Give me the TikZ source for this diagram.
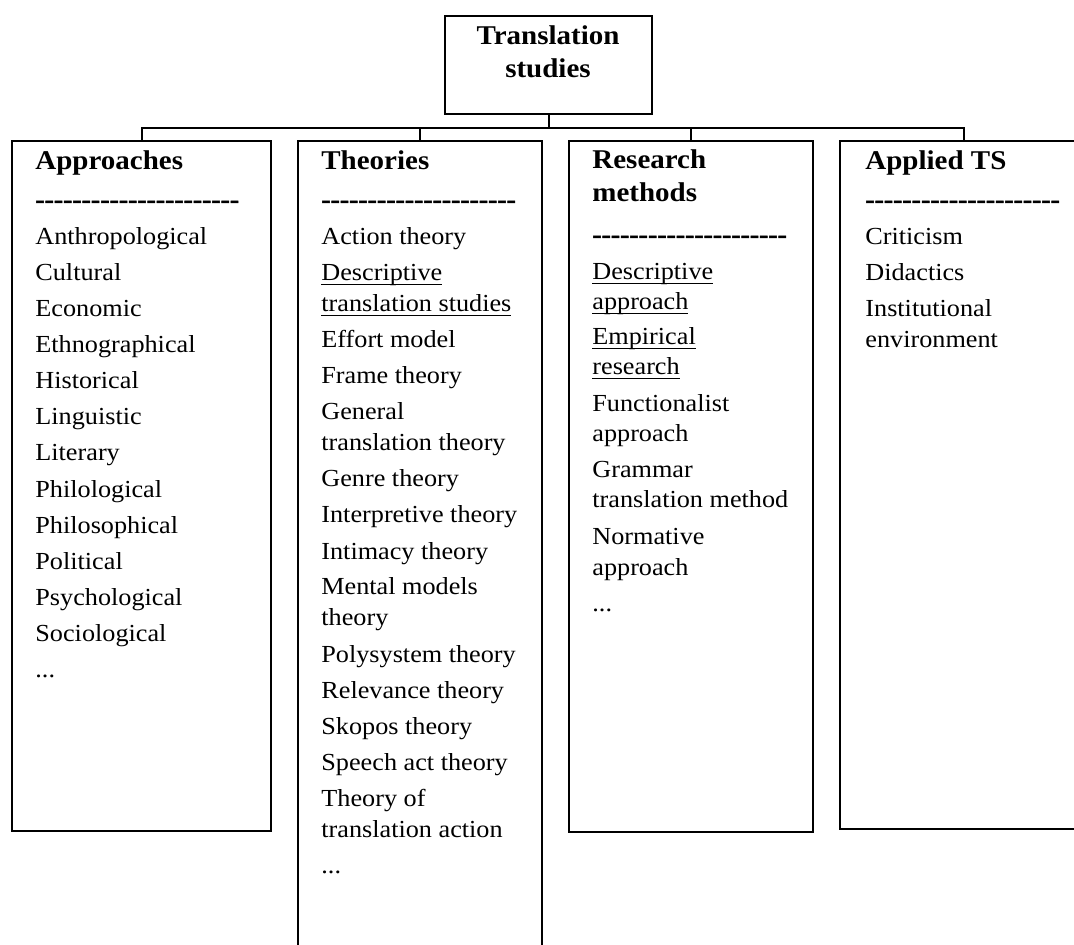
\documentclass[tikz,border=0pt]{standalone}
\usepackage{fontspec}
\setmainfont{Liberation Serif}[FakeStretch=1.07]
\newfontfamily\dashfont{Liberation Serif}[FakeStretch=1.07, UprightFont=*, UprightFeatures={FakeBold=2}, BoldFont={Liberation Serif Bold}, BoldFeatures={FakeBold=2}]
\usetikzlibrary{fit}
\newcommand\myul[1]{\setbox0\hbox{#1}\rlap{\rule[-2.1pt]{\wd0}{0.6pt}}\box0}
\newcommand\dashrow[1]{\foreach \k in {1,...,#1}{\mbox{-}}}
\begin{document}
\begin{tikzpicture}[x=0.5pt,y=-0.5pt,
  frame/.style={draw, line width=1pt, inner sep=0pt},
  txt/.style={anchor=base west, inner sep=0pt, font=\fontsize{12.25}{14}\selectfont},
  hd/.style={anchor=base west, inner sep=0pt, font=\fontsize{13.55}{15}\selectfont\bfseries},
  dsh/.style={anchor=base west, inner sep=0pt, font=\fontsize{13}{15}\dashfont\bfseries},
  link/.style={line width=1pt}]
\useasboundingbox (0,0) rectangle (1074,945);
\clip (0,0) rectangle (1074,945);
% boxes
\node[frame, fit={(445,16)(652,114)}] (top) {};
\node[frame, fit={(12,141)(271,831)}] (b1) {};
\node[frame, fit={(298,141)(542,960)}] (b2) {};
\node[frame, fit={(569,141)(813,832)}] (b3) {};
\node[frame, fit={(840,141)(1087,829)}] (b4) {};
% connectors
\path (top.south) ++(0,13) coordinate (bus);
\draw[link] (top.south) -- (bus);
\draw[link] (bus) -| (b1.north);
\draw[link] (bus) -| (b2.north);
\draw[link] (bus) -| (b3.north);
\draw[link] (bus) -| (b4.north);
% top text
\node[hd, anchor=base] (t1) at (548,45) {Translation};
\node[hd, anchor=base] (t2) at (548,78) {studies};
% column 1
\node[hd] (h1) at (35,170) {Approaches};
\node[dsh] (d1) at (35,208) {\dashrow{22}};
\node[txt] (a1) at (35,245) {Anthropological};
\node[txt] (a2) at (35,281) {Cultural};
\node[txt] (a3) at (35,317) {Economic};
\node[txt] (a4) at (35,353) {Ethnographical};
\node[txt] (a5) at (35,389) {Historical};
\node[txt] (a6) at (35,425) {Linguistic};
\node[txt] (a7) at (35,461) {Literary};
\node[txt] (a8) at (35,497) {Philological};
\node[txt] (a9) at (35,533) {Philosophical};
\node[txt] (a10) at (35,569) {Political};
\node[txt] (a11) at (35,605) {Psychological};
\node[txt] (a12) at (35,641) {Sociological};
\node[txt] (a13) at (35,677) {...};
% column 2
\node[hd] (h2) at (321,170) {Theories};
\node[dsh] (d2) at (321,208) {\dashrow{21}};
\node[txt] (c1) at (321,245) {Action theory};
\node[txt] (c2) at (321,281) {\myul{Descriptive}};
\node[txt] (c3) at (321,312) {\myul{translation studies}};
\node[txt] (c4) at (321,348) {Effort model};
\node[txt] (c5) at (321,384) {Frame theory};
\node[txt] (c6) at (321,420) {General};
\node[txt] (c7) at (321,451) {translation theory};
\node[txt] (c8) at (321,487) {Genre theory};
\node[txt] (c9) at (321,523) {Interpretive theory};
\node[txt] (c10) at (321,559) {Intimacy theory};
\node[txt] (c11) at (321,594) {Mental models};
\node[txt] (c12) at (321,625) {theory};
\node[txt] (c13) at (321,662) {Polysystem theory};
\node[txt] (c14) at (321,698) {Relevance theory};
\node[txt] (c15) at (321,734) {Skopos theory};
\node[txt] (c16) at (321,770) {Speech act theory};
\node[txt] (c17) at (321,806) {Theory of};
\node[txt] (c18) at (321,837) {translation action};
\node[txt] (c19) at (321,873) {...};
% column 3
\node[hd] (h3) at (592,169) {Research};
\node[hd] (h3b) at (592,202) {methods};
\node[dsh] (d3) at (592,243) {\dashrow{21}};
\node[txt] (r1) at (592,280) {\myul{Descriptive}};
\node[txt] (r2) at (592,310) {\myul{approach}};
\node[txt] (r3) at (592,345) {\myul{Empirical}};
\node[txt] (r4) at (592,375) {\myul{research}};
\node[txt] (r5) at (592,412) {Functionalist};
\node[txt] (r6) at (592,442) {approach};
\node[txt] (r7) at (592,478) {Grammar};
\node[txt] (r8) at (592,508) {translation method};
\node[txt] (r9) at (592,545) {Normative};
\node[txt] (r10) at (592,575) {approach};
\node[txt] (r11) at (592,611) {...};
% column 4
\node[hd] (h4) at (865,170) {Applied TS};
\node[dsh] (d4) at (865,208) {\dashrow{21}};
\node[txt] (s1) at (865,245) {Criticism};
\node[txt] (s2) at (865,281) {Didactics};
\node[txt] (s3) at (865,317) {Institutional};
\node[txt] (s4) at (865,348) {environment};
\end{tikzpicture}
\end{document}
